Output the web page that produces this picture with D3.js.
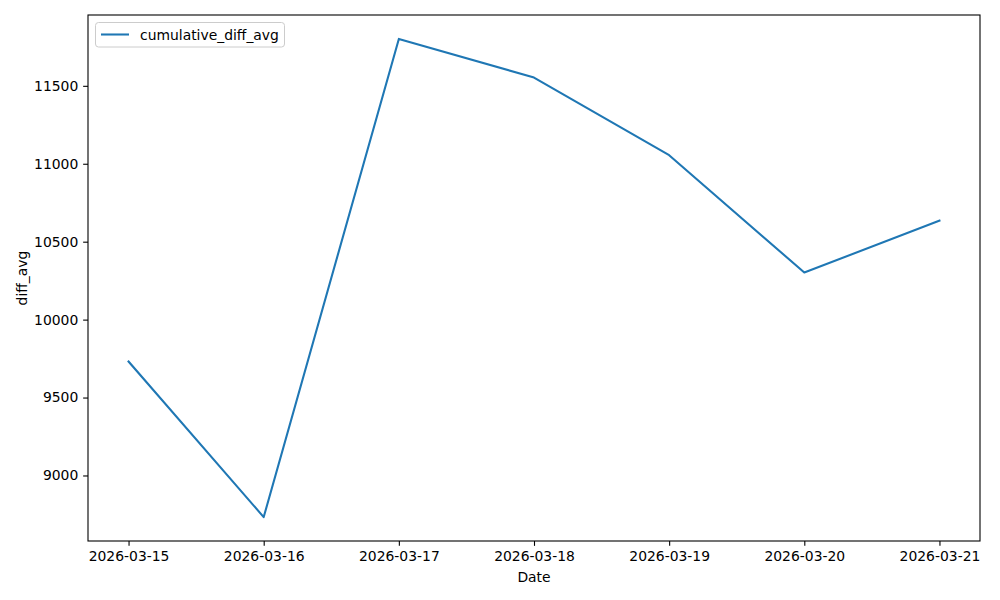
<!DOCTYPE html>
<html><head><meta charset="utf-8">
<script src="https://cdn.jsdelivr.net/npm/d3@7"></script>
<style>body{margin:0;background:#fff}svg{display:block}text{font-family:"DejaVu Sans",sans-serif;font-size:13.9px;fill:#000}</style>
</head><body><svg id="c" width="1000" height="600"></svg>
<script>
const dates = ["2026-03-15","2026-03-16","2026-03-17","2026-03-18","2026-03-19","2026-03-20","2026-03-21"];
const values = [9731, 8733, 11801, 11553, 11055, 10302, 10635];
const yTicks = [9000, 9500, 10000, 10500, 11000, 11500];
const seriesName = "cumulative_diff_avg";

const svg = d3.select("#c");
const L = 88, R = 980, T = 15, B = 541;
const parse = d3.utcParse("%Y-%m-%d");
const xs = dates.map(parse);
const x0 = xs[0], x1 = xs[xs.length-1];
const span = x1 - x0;
const x = d3.scaleUtc().domain([new Date(+x0 - span*0.05), new Date(+x1 + span*0.05)]).range([L, R]);
const ymin = d3.min(values), ymax = d3.max(values), yr = ymax - ymin;
const y = d3.scaleLinear().domain([ymin - yr*0.05, ymax + yr*0.05]).range([B, T]);

const fmt = d3.utcFormat("%Y-%m-%d");
const xAxis = d3.axisBottom(x).tickValues(xs).tickFormat(fmt).tickSize(4.86).tickPadding(4.86);
const gx = svg.append("g").attr("transform", `translate(0,${B})`).call(xAxis);
const yAxis = d3.axisLeft(y).tickValues(yTicks).tickFormat(d3.format("d")).tickSize(4.86).tickPadding(4.86);
const gy = svg.append("g").attr("transform", `translate(${L},0)`).call(yAxis);
[gx, gy].forEach(g => {
  g.select(".domain").remove();
  g.selectAll("line").attr("stroke", "#000").attr("stroke-width", 1.1);
  g.selectAll("text").style("font-family", '"DejaVu Sans",sans-serif').style("font-size", "13.9px").attr("fill", "#000");
});

svg.append("path").datum(values)
  .attr("fill", "none").attr("stroke", "#1f77b4").attr("stroke-width", 2.08)
  .attr("stroke-linejoin", "round").attr("stroke-linecap", "square")
  .attr("d", d3.line().x((d, i) => x(xs[i])).y(d => y(d)));

svg.append("rect").attr("x", L).attr("y", T).attr("width", R - L).attr("height", B - T)
  .attr("fill", "none").attr("stroke", "#000").attr("stroke-width", 1.1);

svg.append("text").attr("x", (L + R) / 2).attr("y", 582).attr("text-anchor", "middle").text("Date");
svg.append("text").attr("transform", "translate(27,278) rotate(-90)").attr("text-anchor", "middle").text("diff_avg");

const lg = svg.append("g");
lg.append("rect").attr("x", 95.5).attr("y", 22.5).attr("width", 189).attr("height", 24.5).attr("rx", 3)
  .attr("fill", "#fff").attr("fill-opacity", 0.8).attr("stroke", "#ccc").attr("stroke-width", 1);
lg.append("line").attr("x1", 101).attr("x2", 129).attr("y1", 34.5).attr("y2", 34.5)
  .attr("stroke", "#1f77b4").attr("stroke-width", 2.08);
lg.append("text").attr("x", 140).attr("y", 39.5).text(seriesName);
</script></body></html>
